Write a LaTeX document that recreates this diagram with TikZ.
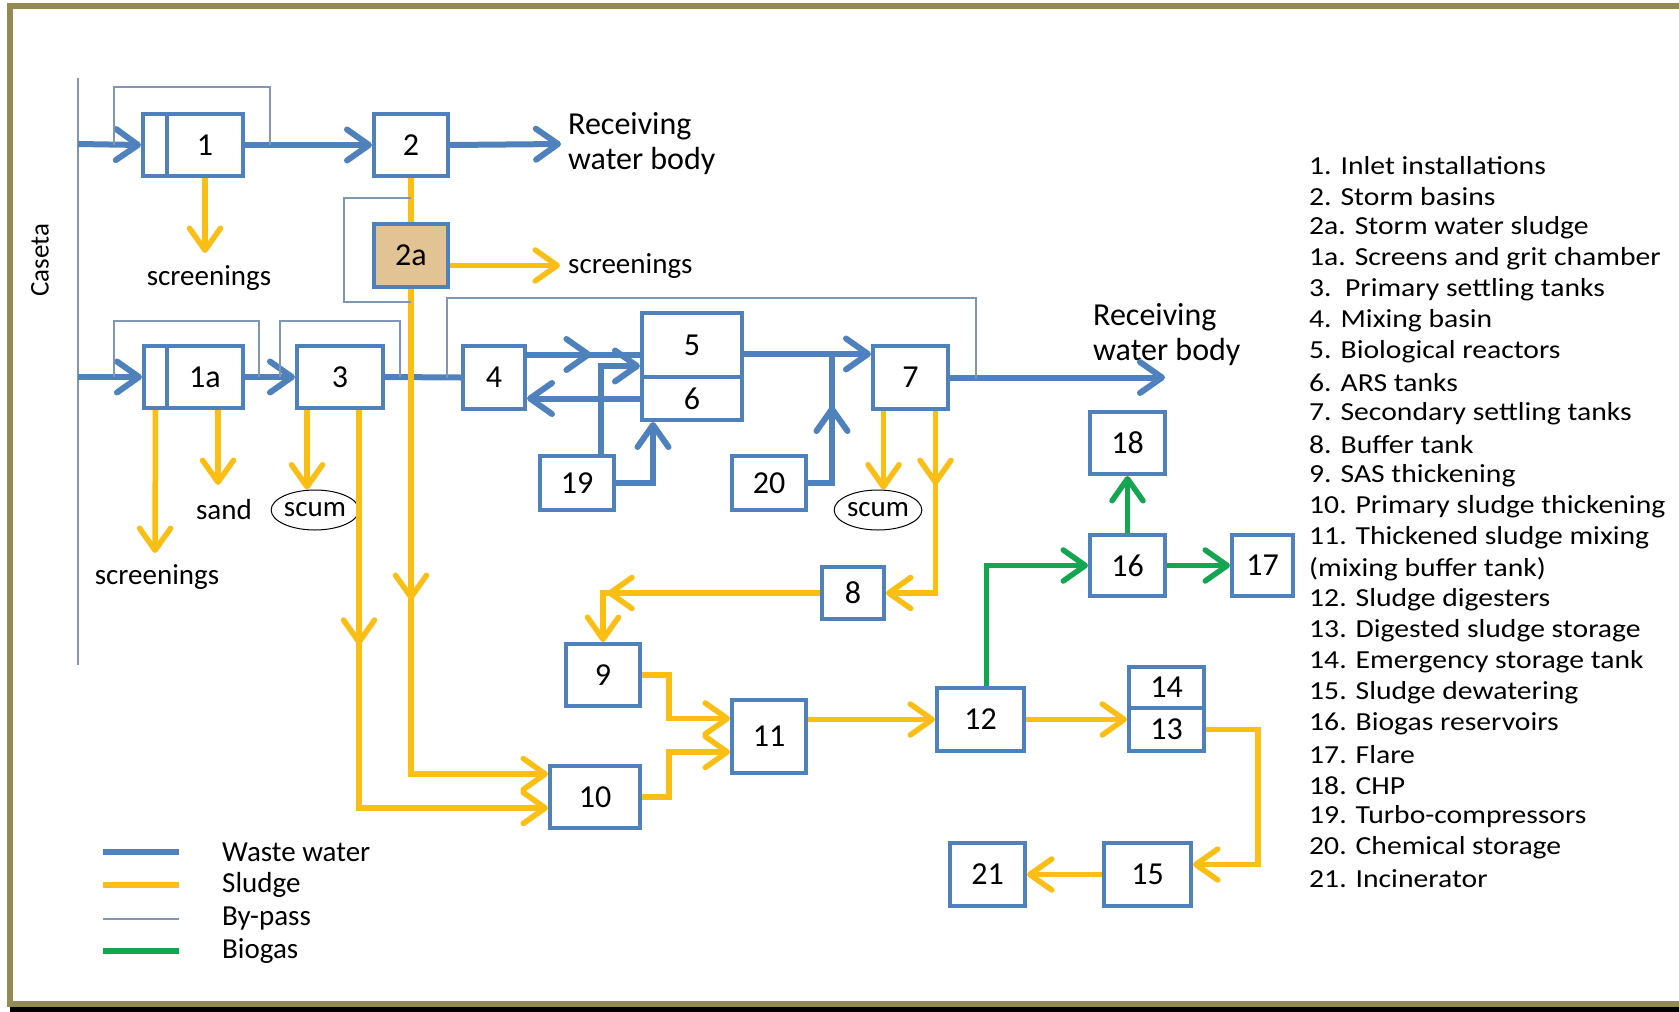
\documentclass[tikz,border=0pt]{standalone}
\usepackage{fontspec}
\setmainfont{Carlito}
\usetikzlibrary{arrows.meta,shapes.geometric,decorations.markings}
\definecolor{wwblue}{RGB}{79,129,189}
\definecolor{sludge}{RGB}{250,190,20}
\definecolor{gas}{RGB}{20,165,80}
\definecolor{bypass}{RGB}{127,150,180}
\definecolor{frameolive}{RGB}{148,138,84}
\definecolor{tanfill}{RGB}{226,196,148}
\tikzset{
  >={Straight Barb[length=22pt,width=31pt,round]},
  unit/.style={draw=wwblue,line width=4pt,inner sep=0pt,font=\fontsize{32}{35}\selectfont},
  ww/.style={wwblue,line width=6pt},
  sl/.style={sludge,line width=5.5pt},
  bg/.style={gas,line width=5.5pt},
  bp/.style={bypass,line width=1.5pt},
  lbl/.style={inner sep=0pt,font=\fontsize{29}{33}\selectfont},
  scum/.style={draw,ellipse,line width=1pt,minimum width=60pt,minimum height=40pt,inner sep=0pt,font=\fontsize{29}{30}\selectfont},
  midarrow/.style={postaction={decorate},decoration={markings,mark=at position #1 with {\arrow{>}}}}
}
\begin{document}
\begin{tikzpicture}[x=1pt,y=-1pt]
      \useasboundingbox (0,0) rectangle (1679,1012);
      \fill[black] (10,1006) rectangle (1679,1012);
      \draw[frameolive,line width=6pt] (1679,6) -- (10,6) -- (10,1003.5) -- (1679,1003.5);

      \draw[bp] (78,78) -- (78,665);
      \node[rotate=90,inner sep=0pt,font=\fontsize{27}{30}\selectfont] (caseta) at (40,260) {Caseta};
      \coordinate (in1) at (78,144);
      \coordinate (in2) at (78,377);

      \def \Boxes {
        g1/155/145/24/62/{},
        b1/205/145/76/62/1,
        b2/411/145/74/62/2,
        g1a/155.5/377/23/62/{},
        b1a/205/377/76/62/1a,
        b3/340/377/86/62/3,
        b4/494/377.5/62/63/4,
        b5/692/345/100/64/5,
        b6/692/398.5/100/43/6,
        b7/910.5/377.5/75/63/7,
        b19/577/483/74/54/19,
        b20/769/483/74/54/20,
        b8/853/593/62/52/8,
        b9/603/675/74/62/9,
        b10/595/797/90/62/10,
        b11/769/736.5/74/73/11,
        b12/980.5/719.5/87/63/12,
        b14/1166.5/687.5/75/41/14,
        b13/1166.5/729.5/75/43/13,
        b15/1147.5/874.5/87/63/15,
        b21/987.5/874.5/75/63/21,
        b16/1127.5/565.5/75/61/16,
        b17/1262.5/565.5/61/61/17,
        b18/1127.5/443/75/62/18}

      \foreach \id / \x / \y / \w / \h / \txt in \Boxes {
        \node[unit,minimum width=\w pt,minimum height=\h pt] (\id) at (\x, \y) {\txt};
      }
      \node[unit,fill=tanfill,minimum width=74pt,minimum height=63pt] (b2a) at (411,255.5) {2a};

      \node[lbl,anchor=west,align=left,font=\fontsize{32}{35}\selectfont] (rec1) at (568,144) {Receiving\\water body};
      \node[lbl,anchor=west,align=left,font=\fontsize{32}{35}\selectfont] (rec2) at (1093,334.5) {Receiving\\water body};
      \node[lbl,anchor=west] (scrl2) at (568,266) {screenings};
      \node[lbl] (scrl1) at (209,278) {screenings};
      \node[lbl] (scrl1a) at (157,577) {screenings};
      \node[lbl] (sandl) at (224,510) {sand};
      \node[scum] (scum1) at (315,510) {scum};
      \node[scum] (scum2) at (878,510) {scum};

      % waste water
      \coordinate (out1) at (561,144);
      \coordinate (out2) at (1165,377.5);
      \coordinate (j20) at (832,354);
      \draw[ww,->] (in1) -- (g1.west);
      \draw[ww,->] (b1.east) -- (b2.west);
      \draw[ww,->] (b2.east) -- (out1);
      \draw[ww,->] (in2) -- (g1a.west);
      \draw[ww,->] (b1a.east) -- (b3.west);
      \draw[ww] (b3.east) -- (b4.west);
      \draw[ww,midarrow=0.57] ([yshift=23pt]b4.east) -- ([yshift=23pt]b4.east -| b5.west);
      \draw[ww,->] (b6.west) -- (b6.west -| b4.east);
      \draw[ww,->] ([xshift=24pt]b19.north) |- ([yshift=-21pt]b5.west);
      \draw[ww,->] (b19.east) -| ([xshift=-39pt]b6.south);
      \draw[ww,->] ([yshift=-9pt]b5.east) -- ([yshift=-9pt]b5.east -| b7.west);
      \draw[ww,midarrow=0.66] (b20.east) -| (j20);
      \draw[ww,->] (b7.east) -- (out2);

      % sludge
      \coordinate (scr1) at (205,253);
      \coordinate (scr1a) at (155,553);
      \coordinate (scr2) at (560,265.5);
      \coordinate (sand) at (218,485);
      \draw[sl] (b2.south) -- (b2a.north);
      \draw[sl,->] ([yshift=-10pt]b2a.east) -- (scr2);
      \draw[sl,->] (b1.south) -- (scr1);
      \draw[sl,->] (g1a.south) -- (scr1a);
      \draw[sl,->] ([xshift=13pt]b1a.south) -- (sand);
      \draw[sl,->] ([xshift=-33pt]b3.south) -- ([xshift=-33pt]b3.south |- scum1.north);
      \draw[sl,->,midarrow=0.4] ([xshift=19pt]b3.south) |- ([yshift=-11pt]b10.west);
      \draw[sl,->,midarrow=0.5] (b2a.south) |- ([yshift=23pt]b10.west);
      \draw[sl,->] ([xshift=-27pt]b7.south) -- ([xshift=-27pt]b7.south |- scum2.north);
      \draw[sl,->,midarrow=0.32] ([xshift=25pt]b7.south) |- (b8.east);
      \draw[sl,->,midarrow=0.8] (b8.west) -| (b9.north);
      \draw[sl,->] (b9.east) -- ++(27,0) |- ([yshift=18pt]b11.west);
      \draw[sl,->] (b10.east) -- ++(27,0) |- ([yshift=-15.5pt]b11.west);
      \draw[sl,->] (b12.west -| b11.east) -- (b12.west);
      \draw[sl,->] (b12.east) -- (b12.east -| b13.west);
      \draw[sl,->] (b13.east) -- ++(52,0) |- ([yshift=10pt]b15.east);
      \draw[sl,->] (b15.west) -- (b21.east);

      % biogas
      \draw[bg,->] ([xshift=6pt]b12.north) |- (b16.west);
      \draw[bg,->] (b16.east) -- (b17.west);
      \draw[bg,->] (b16.north) -- (b18.south);

      % by-pass
      \draw[bp] ([xshift=-27pt]g1.west) |- ([xshift=25pt,yshift=25pt]b1.north east) -- ([xshift=25pt]b1.east);
      \draw[bp] ([xshift=-28pt]g1a.west) |- ([xshift=14pt,yshift=23pt]b1a.north east) -- ([xshift=14pt]b1a.east);
      \draw[bp] ([xshift=-15pt]b3.west) |- ([xshift=15pt,yshift=23pt]b3.north east) -- ([xshift=15pt]b3.east);
      \draw[bp] ([xshift=-14pt]b4.west) |- ([xshift=26pt,yshift=46pt]b7.north east) -- ([xshift=26pt]b7.east);
      \draw[bp] ([yshift=24pt]b2a.north) -| ([xshift=-28pt,yshift=-13pt]b2a.south west) -- ([yshift=-13pt]b2a.south);

      % legend
      \def \Legend {852/ww/Waste water, 885/sl/Sludge, 919/bp/By-pass, 951/bg/Biogas}
      \foreach \y / \sty / \txt in \Legend {
        \draw[\sty] (103,\y) -- (179,\y);
        \node[lbl,anchor=west] (leg\y) at (222,\y) {\txt};
      }

      \foreach \txt [count=\n] in {1. Inlet installations, 2. Storm basins, 2a. Storm water sludge,
          1a. Screens and grit chamber, 3.\ \ Primary settling tanks, 4. Mixing basin,
          5. Biological reactors, 6. ARS tanks, 7. Secondary settling tanks, 8. Buffer tank,
          9. SAS thickening, 10. Primary sludge thickening, 11. Thickened sludge mixing,
          (mixing buffer tank), 12. Sludge digesters, 13. Digested sludge storage,
          14. Emergency storage tank, 15. Sludge dewatering, 16. Biogas reservoirs,
          17. Flare, 18. CHP, 19. Turbo-compressors, 20. Chemical storage, 21. Incinerator} {
        \node[anchor=west,inner sep=0pt,font=\fontsize{26}{30}\selectfont] (item\n) at (1309,{135+31*\n}) {\scalebox{1.14}[1]{\txt}};
      }
    \end{tikzpicture}
\end{document}
